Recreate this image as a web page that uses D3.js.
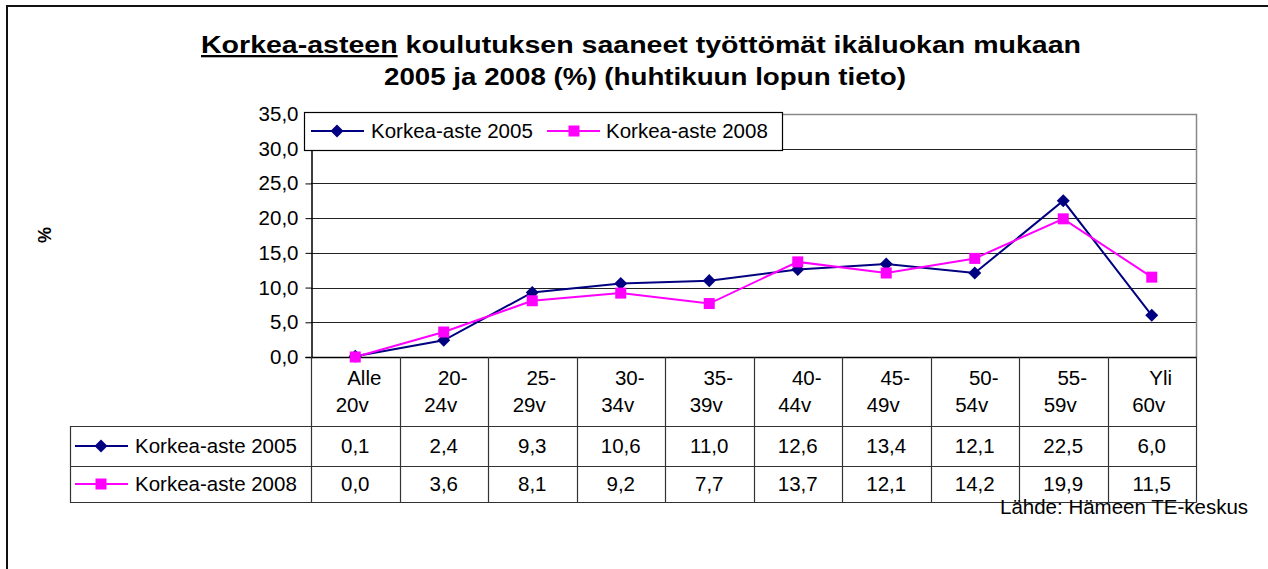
<!DOCTYPE html>
<html>
<head>
<meta charset="utf-8">
<script src="https://cdn.jsdelivr.net/npm/d3@7"></script>
<style>
  body { margin: 0; background: #fff; }
  text { font-family: "Liberation Sans", Arial, sans-serif; fill: #000; }
</style>
</head>
<body>
<div id="chart"></div>
<script>
// age groups (two lines each, like the wrapped excel labels)
var categories = [
  ["Alle", "20v"], ["20-", "24v"], ["25-", "29v"], ["30-", "34v"], ["35-", "39v"],
  ["40-", "44v"], ["45-", "49v"], ["50-", "54v"], ["55-", "59v"], ["Yli", "60v"]
];
var seriesNames = ["Korkea-aste 2005", "Korkea-aste 2008"];
var values2005 = [0.1, 2.4, 9.3, 10.6, 11.0, 12.6, 13.4, 12.1, 22.5, 6.0];
var values2008 = [0.0, 3.6, 8.1, 9.2, 7.7, 13.7, 12.1, 14.2, 19.9, 11.5];
var yTicks = [0, 5, 10, 15, 20, 25, 30, 35];

var W = 1268, H = 569;
var pLeft = 311, pRight = 1196, pTop = 114, pBottom = 357;
var fs = "20.5px";

var fi = d3.formatLocale({decimal: ",", thousands: " ", grouping: [3], currency: ["", "€"]});
var fmt = fi.format(".1f");

var svg = d3.select("#chart").append("svg")
  .attr("width", W)
  .attr("height", H);

// outer frame (runs off right/bottom edge)
svg.append("rect")
  .attr("x", 7).attr("y", 6)
  .attr("width", W + 20).attr("height", H + 20)
  .attr("fill", "none")
  .attr("stroke", "#111")
  .attr("stroke-width", 2);

// title
var title = svg.append("g").style("font-weight", "bold").style("font-size", "23px");
var t1 = title.append("text")
  .attr("x", 641).attr("y", 53)
  .attr("text-anchor", "middle")
  .attr("textLength", 880)
  .attr("lengthAdjust", "spacingAndGlyphs");
t1.append("tspan").style("text-decoration", "underline").text("Korkea-asteen");
t1.append("tspan").text(" koulutuksen saaneet työttömät ikäluokan mukaan");
title.append("text")
  .attr("x", 645).attr("y", 85)
  .attr("text-anchor", "middle")
  .attr("textLength", 522)
  .attr("lengthAdjust", "spacingAndGlyphs")
  .text("2005 ja 2008 (%) (huhtikuun lopun tieto)");

var x = d3.scaleBand()
  .domain(d3.range(categories.length))
  .range([pLeft, pRight]);

var y = d3.scaleLinear()
  .domain([0, 35])
  .range([pBottom, pTop]);

// gridlines
svg.append("g")
  .selectAll("line")
  .data(yTicks.filter(function(d) { return d > 0 && d < 35; }))
  .enter()
  .append("line")
  .attr("x1", pLeft).attr("x2", pRight)
  .attr("y1", function(d) { return Math.round(y(d)) + 0.5; })
  .attr("y2", function(d) { return Math.round(y(d)) + 0.5; })
  .attr("stroke", "#222")
  .attr("stroke-width", 1);

// plot border top / right (grey)
svg.append("path")
  .attr("d", "M" + pLeft + "," + (pTop + 0.5) + "H" + (pRight + 0.5) + "V" + pBottom)
  .attr("fill", "none")
  .attr("stroke", "#888")
  .attr("stroke-width", 1.5);

// y axis
var yAxis = d3.axisLeft(y)
  .tickValues(yTicks)
  .tickSize(6)
  .tickPadding(7)
  .tickFormat(fmt);

var ya = svg.append("g")
  .attr("transform", "translate(" + (pLeft + 0.5) + ",0)")
  .call(yAxis);
ya.select(".domain").attr("stroke", "#000").attr("stroke-width", 1.5);
ya.selectAll(".tick line").attr("stroke", "#000");
ya.selectAll("text")
  .style("font-family", "Liberation Sans, Arial, sans-serif")
  .style("font-size", fs)
  .attr("fill", "#000");

// y title
svg.append("text")
  .attr("transform", "translate(51,235) rotate(-90)")
  .attr("text-anchor", "middle")
  .style("font-weight", "bold")
  .style("font-size", "18px")
  .text("%");

// data table grid
var tableLeft = 70;
var rowTops = [357, 426, 466, 502];
var grid = svg.append("g").attr("stroke", "#333").attr("stroke-width", 1.2).attr("fill", "none");
// x-axis line
grid.append("line")
  .attr("x1", pLeft).attr("x2", pRight + 0.5)
  .attr("y1", pBottom + 0.5).attr("y2", pBottom + 0.5)
  .attr("stroke", "#000").attr("stroke-width", 1.5);
// vertical lines at category borders
grid.selectAll("line.v")
  .data(d3.range(categories.length + 1))
  .enter()
  .append("line")
  .attr("class", "v")
  .attr("x1", function(i) { return Math.round(i < categories.length ? x(i) : x(i - 1) + x.bandwidth()) + 0.5; })
  .attr("x2", function(i) { return Math.round(i < categories.length ? x(i) : x(i - 1) + x.bandwidth()) + 0.5; })
  .attr("y1", pBottom).attr("y2", rowTops[3] + 0.5);
// horizontal row lines
grid.selectAll("line.h")
  .data(rowTops.slice(1))
  .enter()
  .append("line")
  .attr("class", "h")
  .attr("x1", tableLeft).attr("x2", pRight + 0.5)
  .attr("y1", function(d) { return d + 0.5; })
  .attr("y2", function(d) { return d + 0.5; });
grid.append("line")
  .attr("x1", tableLeft + 0.5).attr("x2", tableLeft + 0.5)
  .attr("y1", rowTops[1]).attr("y2", rowTops[3] + 0.5);

// category labels
var catG = svg.append("g").style("font-size", fs).attr("text-anchor", "middle");
catG.selectAll("text.l1")
  .data(categories)
  .enter()
  .append("text")
  .attr("x", function(d, i) { return x(i) + x.bandwidth() / 2 + 9; })
  .attr("y", 385)
  .text(function(d) { return d[0]; });
catG.selectAll("text.l2")
  .data(categories)
  .enter()
  .append("text")
  .attr("x", function(d, i) { return x(i) + x.bandwidth() / 2 - 3; })
  .attr("y", 412)
  .text(function(d) { return d[1]; });

var series = [
  {name: seriesNames[0], values: values2005, color: "#000080", shape: "diamond"},
  {name: seriesNames[1], values: values2008, color: "#ff00ff", shape: "square"}
];

function marker(sel, s) {
  if (s.shape === "diamond") {
    sel.append("path")
      .attr("d", d3.symbol().type(d3.symbolSquare).size(85)())
      .attr("transform", "rotate(45)")
      .attr("fill", s.color);
  } else {
    sel.append("path")
      .attr("d", d3.symbol().type(d3.symbolSquare).size(121)())
      .attr("fill", s.color);
  }
}

// value rows with legend keys
var rowCenters = [446, 484];
series.forEach(function(s, k) {
  var cy = rowCenters[k];
  var key = svg.append("g");
  key.append("line")
    .attr("x1", 75).attr("x2", 128)
    .attr("y1", cy).attr("y2", cy)
    .attr("stroke", s.color).attr("stroke-width", 2);
  var m = key.append("g").attr("transform", "translate(101," + cy + ")");
  marker(m, s);
  key.append("text")
    .attr("x", 135).attr("y", cy + 7)
    .style("font-size", fs)
    .text(s.name);

  svg.append("g")
    .selectAll("text")
    .data(s.values)
    .enter()
    .append("text")
    .attr("x", function(d, i) { return x(i) + x.bandwidth() / 2; })
    .attr("y", cy + 7)
    .attr("text-anchor", "middle")
    .style("font-size", fs)
    .text(function(d) { return fmt(d); });
});

// lines + markers
var line = d3.line()
  .x(function(d, i) { return x(i) + x.bandwidth() / 2; })
  .y(function(d) { return y(d); });

series.forEach(function(s) {
  svg.append("path")
    .datum(s.values)
    .attr("d", line)
    .attr("fill", "none")
    .attr("stroke", s.color)
    .attr("stroke-width", 2);
});
series.forEach(function(s) {
  var g = svg.append("g");
  s.values.forEach(function(v, i) {
    var m = g.append("g")
      .attr("transform", "translate(" + (x(i) + x.bandwidth() / 2) + "," + y(v) + ")");
    marker(m, s);
  });
});

// legend box inside plot
var leg = svg.append("g");
leg.append("rect")
  .attr("x", 304.5).attr("y", 112.5)
  .attr("width", 478).attr("height", 38)
  .attr("fill", "#fff")
  .attr("stroke", "#000")
  .attr("stroke-width", 1.2);
var legItems = [
  {s: series[0], x0: 311, mx: 337, tx: 371},
  {s: series[1], x0: 547, mx: 574, tx: 606}
];
legItems.forEach(function(it) {
  leg.append("line")
    .attr("x1", it.x0).attr("x2", it.x0 + 53)
    .attr("y1", 131).attr("y2", 131)
    .attr("stroke", it.s.color).attr("stroke-width", 2);
  var m = leg.append("g").attr("transform", "translate(" + it.mx + ",131)");
  marker(m, it.s);
  leg.append("text")
    .attr("x", it.tx).attr("y", 138)
    .style("font-size", fs)
    .text(it.s.name);
});

// source
svg.append("text")
  .attr("x", 1000).attr("y", 514)
  .style("font-size", fs)
  .text("Lähde: Hämeen TE-keskus");
</script>
</body>
</html>
